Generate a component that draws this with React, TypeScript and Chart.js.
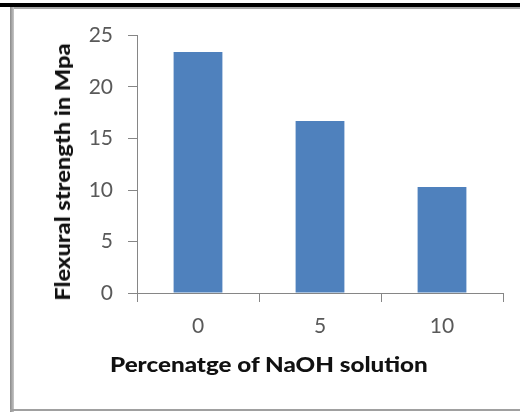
import React, { useEffect, useRef } from "react";
import { Chart, registerables } from "chart.js";

Chart.register(...registerables);

const categories = ["0", "5", "10"];
const flexuralStrength = [23.4, 16.7, 10.3];
const yTicks = [0, 5, 10, 15, 20, 25];
const xTitle = "Percenatge of NaOH solution";
const yTitle = "Flexural strength in Mpa";

const FONT = "Lato, Carlito, Calibri, 'Open Sans', sans-serif";

export default function App() {
  const ref = useRef<HTMLCanvasElement | null>(null);

  useEffect(() => {
    if (!ref.current) return;
    const chart = new Chart(ref.current, {
      type: "bar",
      data: {
        labels: categories,
        datasets: [
          {
            data: flexuralStrength,
            backgroundColor: "#4f81bd",
            borderWidth: 0,
            categoryPercentage: 1,
            barPercentage: 0.4,
          },
        ],
      },
      options: {
        responsive: false,
        animation: false,
        devicePixelRatio: 1,
        layout: { padding: { top: 35.5, right: 17, left: 0, bottom: 0 } },
        plugins: { legend: { display: false }, tooltip: { enabled: false } },
        scales: {
          x: {
            grid: {
              offset: true,
              drawOnChartArea: false,
              drawTicks: true,
              tickLength: 9,
              color: "#868686",
            },
            border: { display: true, color: "#868686", width: 1 },
            ticks: {
              color: "#595959",
              font: { family: FONT, size: 21 },
              padding: 12,
            },
            afterFit: (s: any) => {
              s.height = 119;
            },
          },
          y: {
            min: 0,
            max: 25,
            afterBuildTicks: (s: any) => {
              s.ticks = yTicks.map((v) => ({ value: v }));
            },
            grid: {
              drawOnChartArea: false,
              drawTicks: true,
              tickLength: 9,
              color: "#868686",
            },
            border: { display: true, color: "#868686", width: 1 },
            ticks: {
              color: "#595959",
              font: { family: FONT, size: 21 },
              padding: 15,
            },
            afterFit: (s: any) => {
              s.width = 137;
            },
          },
        },
      },
    });
    return () => chart.destroy();
  }, []);

  return (
    <div
      style={{
        position: "fixed",
        left: 0,
        top: 0,
        width: 520,
        height: 412,
        background: "#ffffff",
        overflow: "hidden",
      }}
    >
      <div style={{ position: "absolute", left: 0, top: 3, width: 520, height: 4, background: "#000" }} />
      <div style={{ position: "absolute", left: 10, top: 7, width: 510, height: 2, background: "#a8a8a8" }} />
      <div style={{ position: "absolute", left: 10, top: 7, width: 4, height: 405, background: "linear-gradient(to right, #8a8a8a, #c8c8c8)" }} />
      <div style={{ position: "absolute", left: 10, top: 409, width: 510, height: 2, background: "#a0a0a0" }} />
      <canvas
        ref={ref}
        width={520}
        height={412}
        style={{ position: "absolute", left: 0, top: 0, width: 520, height: 412 }}
      />
      <div
        style={{
          position: "absolute",
          left: 110,
          top: 364,
          transform: "translateY(-50%) scaleX(1.21)",
          transformOrigin: "left center",
          fontFamily: FONT,
          fontWeight: 900,
          fontSize: 20,
          color: "#111",
          whiteSpace: "nowrap",
          lineHeight: 1,
        }}
      >
        {xTitle}
      </div>
      <div
        style={{
          position: "absolute",
          left: 62,
          top: 171.5,
          transform: "translate(-50%, -50%) rotate(-90deg) scaleX(1.18)",
          fontFamily: FONT,
          fontWeight: 900,
          fontSize: 20,
          color: "#111",
          whiteSpace: "nowrap",
          lineHeight: 1,
        }}
      >
        {yTitle}
      </div>
    </div>
  );
}
